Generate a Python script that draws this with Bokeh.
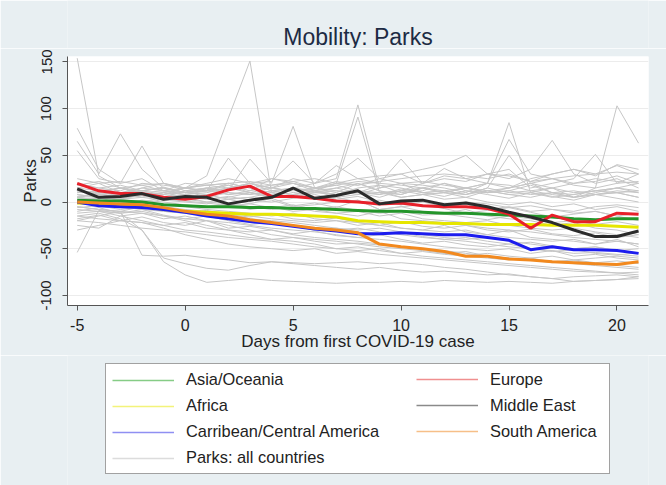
from bokeh.plotting import figure
from bokeh.models import Legend, LegendItem, Range1d, FixedTicker, Label
from bokeh.layouts import column
from bokeh.embed import file_html
from bokeh.resources import INLINE

days = list(range(-5, 22))

# Regional averages
asia_oceania = [2, 1, 1, 0, -3, -4, -5, -5, -6, -6, -7, -7, -8, -9, -10, -10, -11, -12, -12, -13, -14, -15, -16, -18, -19, -18, -18]
africa = [-1, -2, -3, -5, -8, -10, -11, -12, -13, -13, -14, -15, -16, -20, -21, -22, -22, -23, -23, -24, -24, -24, -25, -25, -25, -26, -27]
carribean_central = [0, -4, -5, -6, -8, -11, -15, -18, -21, -23, -26, -29, -31, -34, -34, -33, -34, -35, -35, -38, -41, -51, -48, -51, -51, -52, -55]
europe = [20, 12, 9, 9, 5, 3, 6, 13, 17, 6, 6, 4, 1, 0, -2, -1, -4, -5, -5, -7, -13, -28, -14, -21, -21, -12, -13]
middle_east = [14, 5, 6, 9, 3, 6, 5, -2, 2, 5, 15, 4, 7, 12, -2, 1, 2, -3, -1, -5, -11, -16, -22, -30, -37, -37, -31]
south_america = [0, -1, -2, -3, -6, -10, -13, -15, -19, -22, -25, -28, -30, -33, -45, -48, -50, -53, -58, -58, -61, -62, -64, -65, -66, -67, -64]

# Individual countries (thin grey lines)
ctry_01 = [154, 28, 15, 10, 8, 5, 3, 6, 2, 0, 4, 8, 3, 6, 0, -3, 2, -5, 0, -2, -6, -4, -8, -10, -5, -3, -6]
ctry_02 = [79, 35, 20, 25, 12, 8, 10, 15, 20, 12, 8, 10, 15, 20, 12, 5, 8, 10, 15, 20, 18, 12, 15, 20, 25, 22, 20]
ctry_03 = [65, 30, 73, 35, 15, 10, 12, 18, 10, 15, 20, 12, 8, 15, 18, 10, 12, 20, 15, 10, 12, 18, 10, 8, 12, 15, 10]
ctry_04 = [55, 25, 20, 60, 20, 15, 12, 47, 20, 15, 12, 15, 12, 10, 18, 15, 10, 12, 8, 15, 50, 20, 15, 10, 12, 15, 20]
ctry_05 = [5, 8, 10, 12, 8, 15, 28, 90, 151, 10, 15, 12, 8, 10, 5, 12, 8, 10, 15, 12, 8, 5, 10, 12, 8, 10, 5]
ctry_06 = [8, 5, 10, 12, 15, 10, 8, 12, 46, 20, 81, 15, 10, 20, 12, 8, 15, 10, 5, 12, 8, 10, 15, 5, 8, 12, 10]
ctry_07 = [5, 3, 8, 10, 5, 12, 15, 10, 8, 12, 15, 20, 25, 104, 15, 20, 10, 12, 8, 15, 10, 12, 8, 5, 10, 15, 12]
ctry_08 = [12, 10, 15, 8, 10, 15, 12, 20, 15, 10, 5, 12, 20, 91, 10, 8, 15, 20, 12, 10, 15, 20, 25, 18, 15, 20, 22]
ctry_09 = [3, 5, 2, 0, 5, 8, 3, 5, 10, 8, 5, 10, 12, 8, 15, 20, 18, 15, 10, 20, 85, 10, 5, 8, 12, 10, 5]
ctry_10 = [0, 5, 3, 8, 10, 5, 8, 3, 5, 10, 8, 12, 5, 8, 10, 12, 15, 10, 8, 12, 15, 20, 10, 5, 15, 103, 63]
ctry_11 = [15, 20, 10, 15, 12, 20, 18, 15, 20, 25, 22, 15, 20, 25, 28, 30, 35, 40, 50, 30, 25, 35, 66, 30, 20, 25, 15]
ctry_12 = [10, 12, 8, 5, 10, 8, 12, 15, 10, 5, 8, 12, 15, 10, 8, 12, 20, 25, 22, 30, 35, 15, 20, 25, 51, 20, 30]
ctry_13 = [18, 15, 12, 20, 18, 15, 20, 25, 20, 22, 44, 20, 39, 25, 20, 46, 20, 36, 25, 30, 28, 22, 30, 35, 30, 39, 30]
ctry_14 = [12, 10, 15, 18, 12, 10, 15, 12, 20, 15, 25, 20, 30, 47, 25, 20, 22, 18, 15, 20, 67, 30, 25, 20, 22, 28, 20]
ctry_15 = [5, 2, 0, -3, -5, -8, -10, -12, -15, -18, -20, -22, -20, -25, -22, -28, -30, -32, -30, -35, -38, -40, -42, -40, -45, -42, -45]
ctry_16 = [-5, -8, -10, -12, -15, -18, -20, -25, -30, -35, -38, -40, -42, -45, -48, -50, -52, -55, -53, -58, -60, -62, -65, -63, -66, -68, -70]
ctry_17 = [-15, -12, -18, -30, -64, -78, -86, -84, -82, -84, -85, -86, -87, -86, -86, -85, -86, -84, -85, -86, -85, -86, -87, -85, -84, -83, -82]
ctry_18 = [-54, -9, -12, -10, -15, -20, -25, -30, -35, -40, -42, -45, -50, -48, -52, -55, -58, -60, -62, -64, -66, -68, -70, -72, -74, -76, -78]
ctry_19 = [-5, -8, -10, -57, -58, -57, -60, -62, -65, -64, -66, -68, -70, -72, -70, -73, -75, -74, -76, -78, -77, -80, -82, -80, -79, -78, -80]
ctry_20 = [-8, -10, -12, -30, -60, -66, -71, -73, -68, -64, -65, -66, -65, -64, -66, -65, -67, -70, -72, -75, -78, -80, -82, -85, -84, -83, -80]
ctry_21 = [-20, -22, -25, -28, -30, -32, -35, -38, -40, -42, -45, -48, -50, -52, -50, -55, -53, -56, -58, -60, -62, -60, -64, -62, -65, -63, -66]
ctry_22 = [-25, -28, -15, -20, -25, -30, -32, -35, -38, -40, -38, -42, -45, -44, -46, -48, -50, -55, -57, -55, -58, -60, -58, -62, -60, -58, -60]
ctry_23 = [-30, -25, -20, -22, -28, -35, -40, -45, -48, -50, -52, -50, -55, -53, -56, -58, -60, -62, -64, -66, -68, -70, -72, -74, -75, -76, -75]
ctry_24 = [0, -3, -5, -8, -10, -12, -15, -18, -20, -22, -25, -28, -30, -28, -32, -35, -38, -40, -42, -45, -48, -50, -52, -55, -54, -56, -58]
ctry_25 = [8, 5, 3, 0, -2, -5, -8, -10, -12, -15, -12, -18, -20, -22, -25, -28, -30, -25, -32, -35, -30, -38, -40, -42, -45, -40, -48]
ctry_26 = [15, 12, 10, 8, 5, 3, 0, -2, -5, -8, -5, -10, -12, -10, -15, -12, -18, -20, -22, -20, -25, -28, -30, -28, -32, -35, -38]
ctry_27 = [20, 15, 18, 12, 15, 10, 12, 8, 10, 5, 8, 3, 5, 0, 2, -3, 0, -5, -2, -8, -5, -10, -8, -12, -10, -15, -12]
ctry_28 = [10, 12, 15, 10, 12, 15, 18, 20, 15, 18, 22, 25, 20, 18, 22, 25, 28, 30, 28, 25, 30, 22, 25, 28, 30, 32, 30]
ctry_29 = [-12, -10, -15, -12, -18, -15, -20, -22, -25, -28, -30, -32, -35, -38, -40, -42, -45, -48, -50, -52, -50, -55, -52, -58, -56, -60, -62]
ctry_30 = [25, 20, 22, 18, 20, 15, 18, 20, 22, 18, 20, 15, 18, 22, 20, 18, 15, 12, 15, 10, 12, 8, 10, 5, 8, 10, 12]
ctry_31 = [-2, 0, 3, 5, 2, 0, -2, 3, 5, 2, -5, -3, 0, 2, -8, -5, -10, -12, -8, -15, -18, -20, -25, -22, -28, -30, -35]
ctry_32 = [3, 0, -2, 2, 0, -3, -5, -2, -8, -5, -10, -8, -12, -15, -10, -18, -20, -22, -25, -28, -30, -32, -35, -38, -40, -42, -45]
ctry_33 = [-15, -18, -20, -22, -25, -22, -28, -30, -32, -30, -35, -38, -40, -42, -45, -48, -50, -52, -55, -58, -60, -62, -64, -66, -68, -70, -72]
ctry_34 = [12, 8, 10, 5, 8, 12, 5, 10, 8, 12, 15, 10, 8, 12, 10, 5, 8, 3, 5, 0, -3, 0, -5, -2, -8, -5, -10]
ctry_35 = [-20, -15, -10, -5, -8, -10, -15, -12, -18, -20, -22, -25, -28, -30, -28, -32, -35, -38, -40, -38, -42, -45, -48, -50, -48, -52, -55]
ctry_36 = [5, 10, 8, 15, 20, 12, 15, 18, 12, 25, 20, 15, 22, 18, 25, 30, 20, 28, 25, 20, 15, 25, 30, 35, 28, 40, 35]
ctry_37 = [2, 4, 0, -2, 3, 1, -1, -4, -2, -6, -3, -8, -5, -9, -12, -10, -14, -13, -16, -19, -15, -18, -22, -20, -24, -21, -25]
ctry_38 = [-6, -4, -8, -5, -10, -12, -9, -14, -16, -13, -18, -20, -17, -22, -25, -21, -26, -28, -25, -30, -32, -29, -34, -36, -33, -38, -35]
ctry_39 = [18, 22, 15, 12, 16, 10, 14, 8, 12, 16, 10, 14, 18, 12, 8, 14, 10, 6, 12, 8, 4, 10, 6, 2, 8, 4, 0]
ctry_40 = [-10, -6, -12, -8, -14, -18, -15, -20, -24, -22, -26, -30, -28, -32, -35, -33, -37, -40, -38, -42, -45, -43, -47, -50, -48, -52, -50]
ctry_41 = [6, 9, 4, 7, 2, 5, 0, 3, -2, 4, -4, -1, -6, 2, -8, -5, -3, -7, -12, -9, -6, -11, -16, -13, -10, -15, -20]
ctry_42 = [-18, -14, -20, -16, -22, -25, -20, -28, -26, -30, -34, -31, -36, -38, -35, -40, -44, -42, -46, -48, -45, -50, -53, -51, -55, -57, -54]

countries = [ctry_01, ctry_02, ctry_03, ctry_04, ctry_05, ctry_06, ctry_07, ctry_08, ctry_09, ctry_10,
             ctry_11, ctry_12, ctry_13, ctry_14, ctry_15, ctry_16, ctry_17, ctry_18, ctry_19, ctry_20,
             ctry_21, ctry_22, ctry_23, ctry_24, ctry_25, ctry_26, ctry_27, ctry_28, ctry_29, ctry_30,
             ctry_31, ctry_32, ctry_33, ctry_34, ctry_35, ctry_36, ctry_37, ctry_38, ctry_39, ctry_40,
             ctry_41, ctry_42]

x_ticks = [-5, 0, 5, 10, 15, 20]
x_tick_labels = ["-5", "0", "5", "10", "15", "20"]
y_ticks = [-100, -50, 0, 50, 100, 150]
y_tick_labels = ["-100", "-50", "0", "50", "100", "150"]

FONT = "Liberation Sans"
BG = "#e8eff2"

# Title strip
head = figure(width=666, height=48, output_backend="svg", toolbar_location=None,
              x_range=Range1d(0, 1), y_range=Range1d(0, 1),
              x_axis_type=None, y_axis_type=None, min_border=0)
head.outline_line_color = None
head.background_fill_color = BG
head.border_fill_color = BG
head.add_layout(Label(x=0.5, y=12, y_units="screen", text="Mobility: Parks",
                      text_align="center", text_baseline="middle",
                      text_font=FONT, text_font_size="23px",
                      text_color="#1d2b44"))

p = figure(width=666, height=307, output_backend="svg", toolbar_location=None,
           x_range=Range1d(-5.45, 21.46), y_range=Range1d(-110.8, 155.8))
p.min_border_left = 67
p.min_border_right = 18
p.min_border_top = 8
p.min_border_bottom = 50
p.border_fill_color = BG
p.background_fill_color = "white"
p.outline_line_color = None

for ax in (p.xaxis[0], p.yaxis[0]):
    ax.axis_line_color = "#555555"
    ax.major_tick_line_color = "#555555"
    ax.major_tick_in = 0
    ax.major_tick_out = 5
    ax.minor_tick_line_color = None
    ax.major_label_text_font = FONT
    ax.major_label_text_color = "#222222"
    ax.axis_label_text_font = FONT
    ax.axis_label_text_font_style = "normal"
    ax.axis_label_text_color = "#222222"

p.xaxis.ticker = FixedTicker(ticks=x_ticks)
p.yaxis.ticker = FixedTicker(ticks=y_ticks)
p.xaxis.major_label_overrides = dict(zip(x_ticks, x_tick_labels))
p.yaxis.major_label_overrides = dict(zip(y_ticks, y_tick_labels))
p.xaxis.axis_label = "Days from first COVID-19 case"
p.yaxis.axis_label = "Parks"
p.xaxis.major_label_text_font_size = "16px"
p.yaxis.major_label_text_font_size = "15px"
p.xaxis.axis_label_text_font_size = "17px"
p.yaxis.axis_label_text_font_size = "17px"
p.xaxis.major_label_standoff = 8
p.xaxis.axis_label_standoff = -2
p.yaxis.major_label_standoff = 11
p.yaxis.axis_label_standoff = -1
p.yaxis.major_label_orientation = "vertical"

p.xgrid.visible = False
p.ygrid.grid_line_color = "#ececec"

for c in countries:
    p.line(days, c, line_color="#c6c6c6", line_width=1)

series = [
    (asia_oceania, "#24952a"),
    (africa, "#e6e600"),
    (carribean_central, "#1c1cee"),
    (south_america, "#f2891e"),
    (europe, "#e8202a"),
    (middle_east, "#2b2b2b"),
]
for vals, col in series:
    p.line(days, vals, line_color=col, line_width=3)

# Legend area (a second, axis-less panel in the same background)
leg = figure(width=666, height=130, output_backend="svg", toolbar_location=None,
             x_range=Range1d(0, 1), y_range=Range1d(0, 1),
             x_axis_type=None, y_axis_type=None, min_border=0)
leg.outline_line_color = None
leg.background_fill_color = BG
leg.border_fill_color = BG

# legend keys (thin, pale as in the original); no visible data
nan = float("nan")
def key(color):
    return leg.line(x=[nan], y=[nan], line_color=color, line_width=1.5)

common = dict(label_text_font=FONT, label_text_font_size="16.4px",
              label_text_color="#222222", glyph_width=62, glyph_height=18,
              label_standoff=12, label_height=18, padding=6, spacing=7, margin=0)

legend_left = Legend(items=[
    LegendItem(label="Asia/Oceania", renderers=[key("#86cc86")]),
    LegendItem(label="Africa", renderers=[key("#f3f37a")]),
    LegendItem(label="Carribean/Central America", renderers=[key("#8f8ff2")]),
    LegendItem(label="Parks: all countries", renderers=[key("#dcdcdc")]),
], location=(38, 11), label_width=417,
    border_line_color="#444444", border_line_width=1,
    background_fill_color="white", background_fill_alpha=1, **common)

legend_right = Legend(items=[
    LegendItem(label="Europe", renderers=[key("#f08f8f")]),
    LegendItem(label="Middle East", renderers=[key("#8a8a8a")]),
    LegendItem(label="South America", renderers=[key("#f6bf88")]),
], location=(349, 44.5), border_line_color=None,
    background_fill_alpha=0, **common)

leg.add_layout(legend_left, "center")
leg.add_layout(legend_right, "center")

page = column(head, p, leg, spacing=0)
open("out.html", "w").write(file_html(page, INLINE))
